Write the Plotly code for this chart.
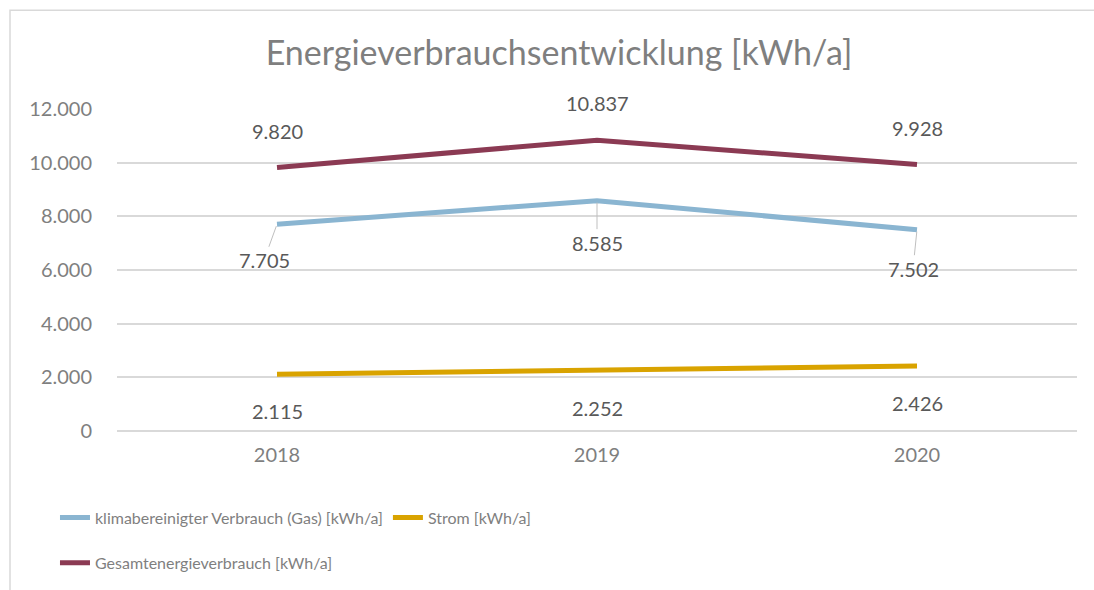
import plotly.graph_objects as go

years = ["2018", "2019", "2020"]
gas = [7705, 8585, 7502]
strom = [2115, 2252, 2426]
gesamt = [9820, 10837, 9928]
y_ticks = [0, 2000, 4000, 6000, 8000, 10000, 12000]
y_tick_labels = ["0", "2.000", "4.000", "6.000", "8.000", "10.000", "12.000"]

names = ["klimabereinigter Verbrauch (Gas) [kWh/a]", "Strom [kWh/a]", "Gesamtenergieverbrauch [kWh/a]"]
colors = ["#8AB5D1", "#D9A300", "#8B3A53"]

def de(v):
    return f"{v:,}".replace(",", ".")

FONT = "Lato"
GRAY = "#7F7F7F"
LBL = "#595959"

fig = go.Figure()
fig.add_trace(go.Scatter(x=years, y=gas, mode="lines", name=names[0],
                         line=dict(color=colors[0], width=5), legend="legend"))
fig.add_trace(go.Scatter(x=years, y=strom, mode="lines", name=names[1],
                         line=dict(color=colors[1], width=5), legend="legend"))
fig.add_trace(go.Scatter(x=years, y=gesamt, mode="lines", name=names[2],
                         line=dict(color=colors[2], width=5), legend="legend2"))

# category axis: annotation positions use the category index
annotations = []
for i, v in enumerate(gesamt):
    annotations.append(dict(x=i, y=v, xref="x", yref="y", text=de(v), showarrow=False,
                            yshift=37, font=dict(size=20, color=LBL, family=FONT)))
gas_dx = [-13, 0, -4]
gas_dy = [36, 42, 39]
for i, (v, dx, dy) in enumerate(zip(gas, gas_dx, gas_dy)):
    annotations.append(dict(x=i, y=v, xref="x", yref="y", text=de(v), showarrow=True,
                            arrowhead=0, arrowwidth=1, arrowcolor="#BFBFBF",
                            ax=dx, ay=dy, standoff=2,
                            font=dict(size=20, color=LBL, family=FONT)))
for i, v in enumerate(strom):
    annotations.append(dict(x=i, y=v, xref="x", yref="y", text=de(v), showarrow=False,
                            yshift=-37, font=dict(size=20, color=LBL, family=FONT)))

fig.update_layout(
    width=1094, height=590,
    margin=dict(l=117, r=17, t=109, b=158),
    paper_bgcolor="white", plot_bgcolor="white",
    title=dict(text="Energieverbrauchsentwicklung [kWh/a]", x=0.511, xanchor="center",
               y=0.91, yanchor="middle",
               font=dict(size=34, color=GRAY, family=FONT)),
    font=dict(family=FONT, color=GRAY),
    xaxis=dict(type="category", range=[-0.5, 2.5], showgrid=False, showline=False,
               zeroline=False, ticks="", tickfont=dict(size=20, color=GRAY),
               ticklabelstandoff=10),
    yaxis=dict(range=[0, 12000], tickvals=y_ticks, ticktext=y_tick_labels,
               showgrid=True, gridcolor="#D9D9D9", gridwidth=1.5, zeroline=True,
               zerolinecolor="#D9D9D9", zerolinewidth=1.5,
               tickfont=dict(size=20, color=GRAY), ticklabelstandoff=24),
    legend=dict(orientation="h", x=-0.0646, xanchor="left", y=-0.265, yanchor="middle",
                font=dict(size=16, color=GRAY, family=FONT), bgcolor="rgba(0,0,0,0)",
                itemwidth=30),
    legend2=dict(orientation="h", x=-0.0646, xanchor="left", y=-0.405, yanchor="middle",
                 font=dict(size=16, color=GRAY, family=FONT), bgcolor="rgba(0,0,0,0)",
                 itemwidth=30),
    annotations=annotations,
    shapes=[dict(type="rect", xref="paper", yref="paper",
                 x0=(10 - 117) / 960, x1=(1110 - 117) / 960,
                 y0=(432 - 610) / 323, y1=(432 - 10) / 323,
                 line=dict(color="#D9D9D9", width=1.5), fillcolor="rgba(0,0,0,0)",
                 layer="below")],
)

fig.write_html("out.html", config={"displayModeBar": False},
               post_script="document.body.style.margin='0';")
